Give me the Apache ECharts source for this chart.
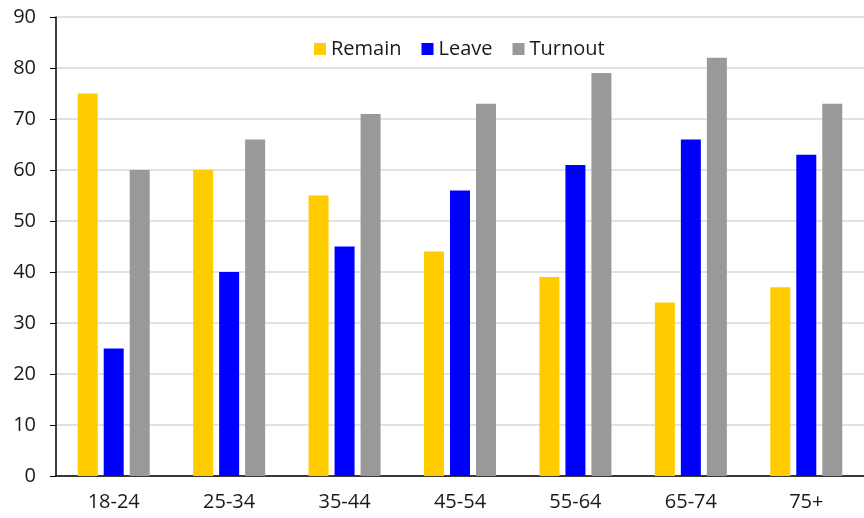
<!DOCTYPE html>
<html><head><meta charset="utf-8">
<script src="https://cdn.jsdelivr.net/npm/echarts@6/dist/echarts.min.js"></script>
<style>html,body{margin:0;padding:0;background:#fff}#c{width:864px;height:518px}</style>
</head><body><div id="c"></div>
<script>
const categories = ['18-24','25-34','35-44','45-54','55-64','65-74','75+'];
const remain = [75,60,55,44,39,34,37];
const leave = [25,40,45,56,61,66,63];
const turnout = [60,66,71,73,79,82,73];
const yTicks = {min:0,max:90,interval:10};

const chart = echarts.init(document.getElementById('c'), null, {renderer:'canvas'});
const font = '"Open Sans", "Noto Sans", sans-serif';
chart.setOption({
  animation:false,
  textStyle:{fontFamily:font},
  grid:{left:56,right:0,top:17,bottom:42,containLabel:false},
  legend:{
    top:34, left:309, itemWidth:12, itemHeight:12, itemGap:20,
    icon:'rect',
    textStyle:{fontSize:20,color:'#1a1a1a',fontFamily:font},
    data:['Remain','Leave','Turnout']
  },
  xAxis:{
    type:'category', data:categories,
    axisLine:{lineStyle:{color:'#000',width:1.5}},
    axisTick:{show:false},
    axisLabel:{fontSize:20,color:'#1a1a1a',margin:16,fontFamily:font}
  },
  yAxis:{
    type:'value', min:yTicks.min, max:yTicks.max, interval:yTicks.interval,
    axisLine:{show:true,lineStyle:{color:'#000',width:1.5}},
    axisTick:{show:true,inside:false,length:6,lineStyle:{color:'#000'}},
    axisLabel:{fontSize:20,color:'#1a1a1a',margin:20,fontFamily:font},
    splitLine:{lineStyle:{color:'#d9d9d9',width:1.5}}
  },
  series:[
    {name:'Remain',type:'bar',data:remain,barWidth:20,barGap:'30%',itemStyle:{color:'#ffcc00'}},
    {name:'Leave',type:'bar',data:leave,barWidth:20,barGap:'30%',itemStyle:{color:'#0000ff'}},
    {name:'Turnout',type:'bar',data:turnout,barWidth:20,barGap:'30%',itemStyle:{color:'#999999'}}
  ]
});
</script></body></html>
